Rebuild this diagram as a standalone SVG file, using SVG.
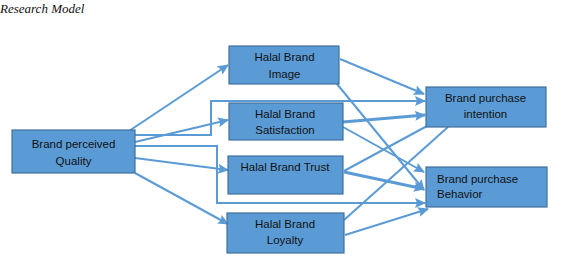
<svg xmlns="http://www.w3.org/2000/svg" width="587" height="255" viewBox="0 0 587 255">
<style>
.box{fill:#5B9BD5;stroke:#41719C;stroke-width:1.2}
.t{font-family:"Liberation Sans",Arial,sans-serif;font-size:11.5px;fill:#111;text-anchor:middle}
.c{fill:none;stroke:#5B9BD5;stroke-width:2}
.a{marker-end:url(#ah)}
</style>
<defs>
<marker id="ah" markerUnits="userSpaceOnUse" markerWidth="11" markerHeight="10" refX="10" refY="5" orient="auto">
<path d="M0,0 L11,5 L0,10 L2,5 Z" fill="#5B9BD5"/>
</marker>
</defs>
<rect width="587" height="255" fill="#fff"/>
<text x="0" y="13" font-family="Liberation Serif,serif" font-style="italic" font-size="13" fill="#111">Research Model</text>
<g id="connectors">
<path class="c a" d="M129,131 L228,65"/>
<path class="c a" d="M135,135 L211,135 L211,101 L425,101"/>
<path class="c a" d="M135,142 L228,120"/>
<path class="c a" d="M135,146 L217,146 L217,203 L425,203"/>
<path class="c a" d="M135,158 L228,170"/>
<path class="c a" d="M135,173 L228,224"/>
<path class="c a" d="M340,59 L424,94"/>
<path class="c a" d="M337,84 L424,190"/>
<path class="c a" d="M343,122 L425,115" style="stroke-width:3"/>
<path class="c a" d="M343,127 L424,172"/>
<path class="c" d="M344,171 L427,126"/>
<path class="c a" d="M344,172 L424,189" style="stroke-width:3"/>
<path class="c" d="M344,220 L448,127"/>
<path class="c a" d="M345,235 L428,209"/>
</g>
<g id="quality"><rect class="box" x="12" y="130" width="123" height="43"/><text class="t" x="73.5" y="148">Brand perceived</text><text class="t" x="73.5" y="165">Quality</text></g>
<g id="image"><rect class="box" x="229" y="46" width="110" height="38"/><text class="t" x="284.5" y="61">Halal Brand</text><text class="t" x="284.5" y="78">Image</text></g>
<g id="satisfaction"><rect class="box" x="229" y="103" width="114" height="37"/><text class="t" x="285" y="118">Halal Brand</text><text class="t" x="285" y="134">Satisfaction</text></g>
<g id="trust"><rect class="box" x="228" y="156" width="115" height="38"/><text class="t" x="285" y="171">Halal Brand Trust</text></g>
<g id="loyalty"><rect class="box" x="227" y="213" width="117" height="40"/><text class="t" x="285" y="228">Halal Brand</text><text class="t" x="285" y="244">Loyalty</text></g>
<g id="intention"><rect class="box" x="426" y="87" width="120" height="40"/><text class="t" x="485.5" y="102">Brand purchase</text><text class="t" x="485.5" y="118">intention</text></g>
<g id="behavior"><rect class="box" x="426" y="167" width="121" height="40"/><text class="t" x="437" y="183" style="text-anchor:start">Brand purchase</text><text class="t" x="437" y="198" style="text-anchor:start">Behavior</text></g>
</svg>
